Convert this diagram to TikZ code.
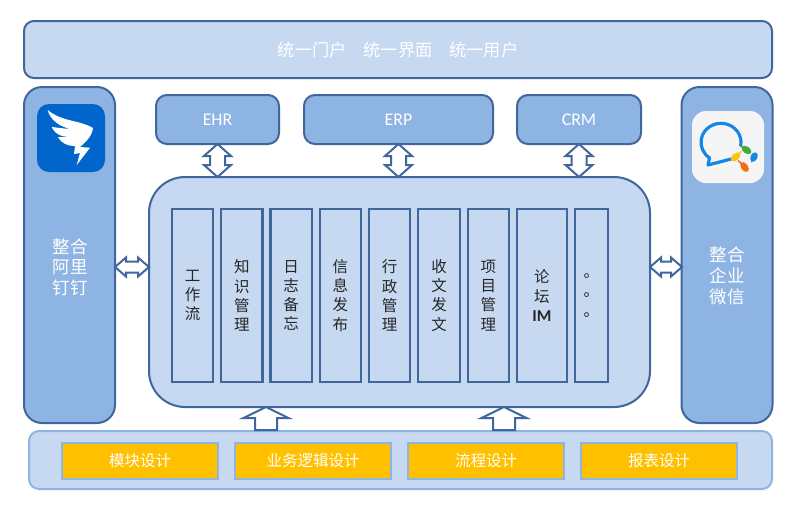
\documentclass[tikz,border=0pt]{standalone}
\usepackage{fontspec}
\setmainfont{Noto Sans CJK SC}
\newfontfamily\latinfont{Carlito}
\usetikzlibrary{positioning,calc}
\definecolor{paleblue}{HTML}{C6D9F1}
\definecolor{midblue}{HTML}{8EB4E3}
\definecolor{darkline}{HTML}{41669B}
\definecolor{amber}{HTML}{FFC000}
\definecolor{dingblue}{HTML}{0066CC}
\definecolor{chatblue}{HTML}{1487E6}
\definecolor{petalgreen}{HTML}{46AA3C}
\definecolor{petalorange}{HTML}{F06E14}
\definecolor{petalyellow}{HTML}{FAC314}
\def\u{0.6pt}
% point beside the line from start to target
\newcommand{\sidept}[2]{($($#1$)!#2!90:(\tikztotarget)$)}
\tikzset{
	box/.style={draw=darkline, line width=1.2pt, inner sep=0pt, outer sep=0pt, align=center},
	light/.style={box, fill=paleblue, rounded corners=10*\u},
	system/.style={box, fill=midblue, rounded corners=11*\u, minimum height=49*\u, text=white,
		font=\latinfont\fontsize{10.7}{12}\selectfont},
	side/.style={box, fill=midblue, rounded corners=18*\u, minimum width=91*\u, minimum height=336*\u},
	sidetext/.style={text=white, align=center, inner sep=0pt, font=\fontsize{10.5}{12.4}\selectfont},
	module/.style={box, fill=paleblue, line width=1.3pt, minimum width=41.3*\u, minimum height=173*\u,
		text=black!85, font=\fontsize{9.3}{11.5}\selectfont},
	design/.style={box, draw=midblue, line width=1.4pt, fill=amber, minimum width=156*\u, minimum height=36*\u,
		text=white, font=\fontsize{9.3}{11}\selectfont},
	both/.style n args={3}{draw=darkline, line width=1.2pt, fill=white, to path={
		-- \sidept{(\tikztostart)!#1*\u!(\tikztotarget)}{#2*\u}
		-- \sidept{(\tikztostart)!#1*\u!(\tikztotarget)}{#3*\u}
		-- \sidept{(\tikztotarget)!#1*\u!(\tikztostart)}{#3*\u}
		-- \sidept{(\tikztotarget)!#1*\u!(\tikztostart)}{#2*\u}
		-- (\tikztotarget)
		-- \sidept{(\tikztotarget)!#1*\u!(\tikztostart)}{-#2*\u}
		-- \sidept{(\tikztotarget)!#1*\u!(\tikztostart)}{-#3*\u}
		-- \sidept{(\tikztostart)!#1*\u!(\tikztotarget)}{-#3*\u}
		-- \sidept{(\tikztostart)!#1*\u!(\tikztotarget)}{-#2*\u}
		-- cycle}},
	up/.style n args={3}{draw=darkline, line width=1.2pt, fill=white, to path={
		-- \sidept{(\tikztostart)!0pt!(\tikztotarget)}{#3*\u}
		-- \sidept{(\tikztotarget)!#1*\u!(\tikztostart)}{#3*\u}
		-- \sidept{(\tikztotarget)!#1*\u!(\tikztostart)}{#2*\u}
		-- (\tikztotarget)
		-- \sidept{(\tikztotarget)!#1*\u!(\tikztostart)}{-#2*\u}
		-- \sidept{(\tikztotarget)!#1*\u!(\tikztostart)}{-#3*\u}
		-- \sidept{(\tikztostart)!0pt!(\tikztotarget)}{-#3*\u}
		-- (\tikztostart)}}
}
\begin{document}
\begin{tikzpicture}[x=0.6pt, y=-0.6pt]
	\useasboundingbox (0,0) rectangle (800,511);
	\node [light, minimum width=748*\u, minimum height=57*\u, text=white,
		font=\fontsize{10.3}{12}\selectfont] (portal) at (398,49.5)
		{统一门户\hspace{1em}统一界面\hspace{1em}统一用户};
	\node [side] (ding) at (69.5,255) {};
	\node [side] (wecom) at (727,255) {};
	\node [system, minimum width=123*\u] (EHR) at (217.5,119.5) {EHR};
	\node [system, minimum width=189*\u] (ERP) at (398.5,119.5) {ERP};
	\node [system, minimum width=124*\u] (CRM) at (579,119.5) {CRM};
	\node [light, rounded corners=36*\u, minimum width=501*\u, minimum height=230*\u] (main) at (399.5,292) {};
	%% Modules
	\node [module] (flow) at (192.5,295.5) {工\\作\\流};
	\node [module, right=8*\u of flow] (know) {知\\识\\管\\理};
	\node [module, right=8*\u of know] (log) {日\\志\\备\\忘};
	\node [module, right=8*\u of log] (info) {信\\息\\发\\布};
	\node [module, right=8*\u of info] (admin) {行\\政\\管\\理};
	\node [module, right=8*\u of admin] (docs) {收\\文\\发\\文};
	\node [module, right=8*\u of docs] (proj) {项\\目\\管\\理};
	\node [module, right=8*\u of proj, minimum width=50*\u] (forum) {论\\坛\\{\latinfont\fontsize{10}{11.5}\selectfont\bfseries IM}};
	\node [module, right=8*\u of forum, minimum width=33*\u] (more) {。\\。\\。};
	%% Design tools
	\node [light, draw=midblue, minimum width=743*\u, minimum height=58*\u] (tools) at (400.5,460) {};
	\node [design] (d1) at (140,461) {模块设计};
	\node [design, right=17*\u of d1] (d2) {业务逻辑设计};
	\node [design, right=17*\u of d2] (d3) {流程设计};
	\node [design, right=17*\u of d3] (d4) {报表设计};
	\coordinate (upA) at (266,430);
	\coordinate (upB) at (504,430);
	\coordinate (linkL) at (115,267);
	\coordinate (linkR) at (682,267);
	%% Arrows
	\draw [both={12}{13.5}{7.5}] (EHR.south) to (EHR.south |- main.north);
	\draw [both={12}{13.5}{7.5}] (ERP.south) to (ERP.south |- main.north);
	\draw [both={12}{13.5}{7.5}] (CRM.south) to (CRM.south |- main.north);
	\draw [both={11}{9.5}{5.5}] (linkL) to (linkL -| main.west);
	\draw [both={11}{9.5}{5.5}] (linkR) to (linkR -| main.east);
	\draw [up={11}{22.5}{11}] (upA) to (upA |- main.south);
	\draw [up={11}{22.5}{11}] (upB) to (upB |- main.south);
	%% Side text
	\node [sidetext] (dingText) at (70,267) {整合\\阿里\\钉钉};
	\node [sidetext] (wecomText) at (727,276) {整合\\企业\\微信};
	%% Icons
	\fill [rounded corners=12*\u, dingblue] (37,104) rectangle (105,172);
	\fill [white] (47.7,110) .. controls (62,122) and (80,120) .. (93,128)
		.. controls (92,136) and (86,142) .. (80,147) -- (90,147.7) -- (76.7,165) -- (80,153) -- (74,154) -- (75,146)
		.. controls (68,146) and (62,144) .. (58,137) -- (71.7,137)
		.. controls (64,137) and (56,136) .. (51.7,127) -- (71.7,129.3)
		.. controls (60,127) and (50,120) .. (47.7,110) -- cycle;
	\fill [rounded corners=14*\u, fill=white!96!black] (692,111) rectangle (764,183);
	\draw [line width=1.9pt, line cap=round, line join=round, chatblue]
		(740.7,145.6) arc[start angle=10, end angle=-235, x radius=20, y radius=19] -- (708,165) -- (731,159);
	\draw [line width=0.9pt, line cap=round, petalgreen] (741.7,146.7) -- (746,149.5);
	\draw [line width=0.9pt, line cap=round, chatblue] (751.7,161.7) -- (753.5,157.5);
	\draw [line width=0.9pt, line cap=round, petalorange] (738.3,160.7) -- (744,166);
	\draw [line width=0.9pt, line cap=round, petalyellow] (741,151.7) -- (736,156.5);
	\fill [rotate around={-35:(746.5,150)}, petalgreen] (746.5,150) ellipse[x radius=5.5, y radius=3.5];
	\fill [rotate around={65:(754,157)}, chatblue] (754,157) ellipse[x radius=5, y radius=3.5];
	\fill [rotate around={-55:(744.5,167)}, petalorange] (744.5,167) ellipse[x radius=5.5, y radius=3.5];
	\fill [rotate around={40:(735.5,157)}, petalyellow] (735.5,157) ellipse[x radius=5.5, y radius=3.5];
\end{tikzpicture}
\end{document}
